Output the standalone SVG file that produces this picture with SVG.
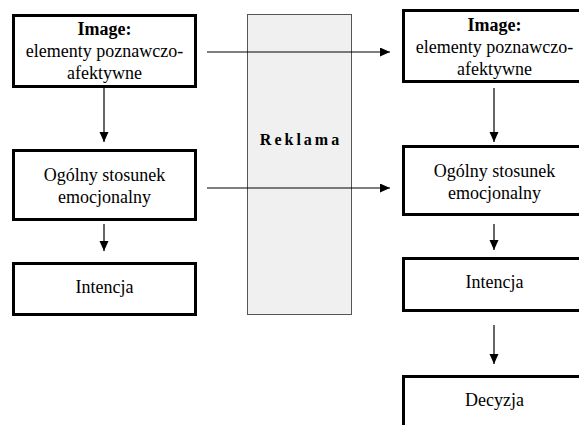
<svg xmlns="http://www.w3.org/2000/svg" width="579" height="425" viewBox="0 0 579 425">
<style>
.box{fill:#fff;stroke:#000;stroke-width:3}
text{font-family:'Liberation Serif','Times New Roman',serif;font-size:18px;fill:#000;text-anchor:middle}
.b{font-weight:bold}
.rk{font-size:16px;letter-spacing:3px}
.c{stroke:#000;stroke-width:1.2;fill:none;marker-end:url(#ah)}
</style>
<defs>
<marker id="ah" markerUnits="userSpaceOnUse" markerWidth="10" markerHeight="10" refX="10" refY="4.5" orient="auto">
<path d="M0,0 L10,4.5 L0,9 Z" fill="#000"/>
</marker>
</defs>
<rect width="579" height="425" fill="#fff"/>
<g id="reklama">
<rect x="247.5" y="14.5" width="104" height="300" fill="#f0f0f0" stroke="#555" stroke-width="1"/>
<text class="b rk" x="301" y="145">Reklama</text>
</g>
<g id="l-image">
<rect class="box" x="13.5" y="15.5" width="182" height="71"/>
<text class="b" x="104.5" y="35">Image:</text>
<text x="104.5" y="57">elementy poznawczo-</text>
<text x="104.5" y="79">afektywne</text>
</g>
<g id="l-stosunek">
<rect class="box" x="13.5" y="150.5" width="182" height="69"/>
<text x="104.5" y="181">Ogólny stosunek</text>
<text x="104.5" y="203">emocjonalny</text>
</g>
<g id="l-intencja">
<rect class="box" x="13.5" y="263.5" width="182" height="51"/>
<text x="104.5" y="293">Intencja</text>
</g>
<g id="r-image">
<rect class="box" x="403.5" y="10.5" width="182" height="71"/>
<text class="b" x="494.5" y="31">Image:</text>
<text x="494.5" y="53">elementy poznawczo-</text>
<text x="494.5" y="75">afektywne</text>
</g>
<g id="r-stosunek">
<rect class="box" x="403.5" y="146.5" width="182" height="68"/>
<text x="494.5" y="177">Ogólny stosunek</text>
<text x="494.5" y="199">emocjonalny</text>
</g>
<g id="r-intencja">
<rect class="box" x="403.5" y="258.5" width="182" height="52"/>
<text x="494.5" y="288">Intencja</text>
</g>
<g id="r-decyzja">
<rect class="box" x="403.5" y="376.5" width="182" height="60"/>
<text x="494.5" y="406">Decyzja</text>
</g>
<g id="connectors">
<path class="c" d="M104,88 V142"/>
<path class="c" d="M104,224 V251"/>
<path class="c" d="M494,88 V142"/>
<path class="c" d="M494,224 V250"/>
<path class="c" d="M494,325 V364"/>
<path class="c" d="M207,52 H390"/>
<path class="c" d="M207,188 H390"/>
</g>
</svg>
